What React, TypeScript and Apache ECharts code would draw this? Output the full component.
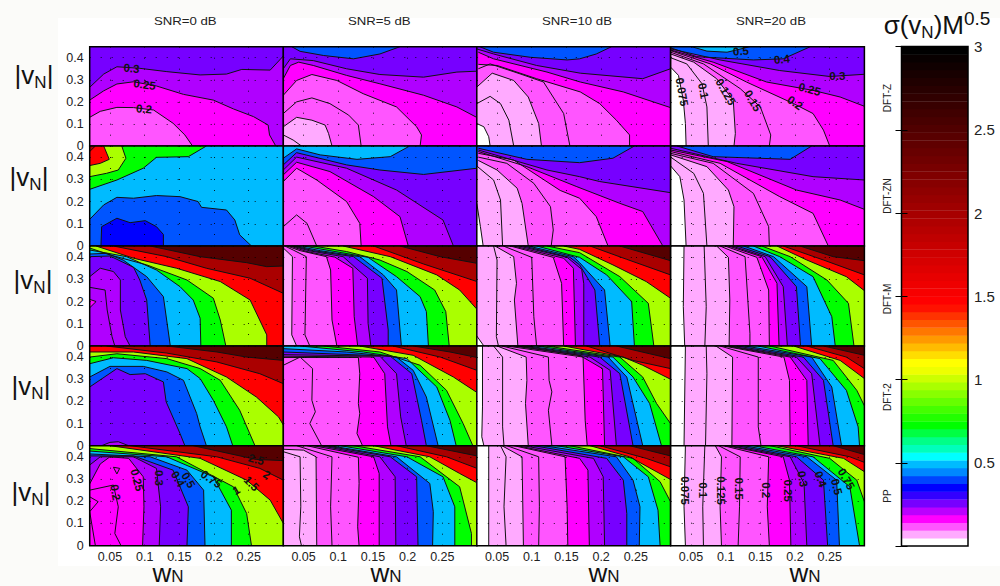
import React, { useEffect, useRef } from "react";
import * as echarts from "echarts";

type C = [number, number[]];
type L = [string, number, number, number];

const XMIN = 0.0208, XMAX = 0.3, VMAX = 0.45;
const wTicks = [0.05, 0.1, 0.15, 0.2, 0.25];
const vTicks = [0, 0.1, 0.2, 0.3, 0.4];
const snrTitles = ["SNR=0 dB", "SNR=5 dB", "SNR=10 dB", "SNR=20 dB"];
const methods = ["DFT-Z", "DFT-ZN", "DFT-M", "DFT-2", "PP"];

// colour of the band just under / just over each contour level
const below: Record<string, string> = {
  "0.075": "#ffffff", "0.1": "#ffaaff", "0.125": "#ffaaff", "0.15": "#ff55ff", "0.2": "#ff55ff",
  "0.205": "#ff00ff", "0.21": "#ff00ff", "0.22": "#ff00ff", "0.25": "#ff00ff", "0.26": "#b000ff", "0.3": "#b000ff",
  "0.4": "#7700ff", "0.45": "#0000ff", "0.5": "#0055ff", "0.75": "#00bbff", "1": "#00ff00", "1.5": "#aaff00",
  "2": "#ff0000", "2.5": "#aa0000",
};
const above: Record<string, string> = {
  "0.3": "#7700ff", "0.4": "#0055ff", "0.5": "#00bbff", "0.75": "#00ff00", "1": "#aaff00", "1.5": "#ff0000", "2": "#aa0000", "2.5": "#550000",
};

const c11: C[] = [
  [0.2, [.021,.13,.036,.157,.06,.175,.084,.174,.113,.163,.141,.103,.158,.05,.169,0]],
  [0.25, [.021,.208,.041,.25,.06,.281,.084,.291,.117,.272,.156,.234,.199,.208,.228,.168,.257,.133,.278,.095,.28,.05,.289,0]],
  [0.3, [.021,.266,.041,.326,.06,.359,.093,.352,.132,.337,.18,.322,.218,.326,.24,.347,.281,.344,.3,.408]],
];
const c12: C[] = [
  [0.1, [.021,.05,.035,.027,.047,0]],
  [0.125, [.021,.087,.04,.13,.062,.117,.081,.095,.086,.057,.091,0]],
  [0.15, [.021,.147,.04,.2,.062,.218,.088,.192,.115,.14,.129,.095,.133,0]],
  [0.2, [.021,.23,.04,.297,.062,.324,.098,.297,.136,.237,.184,.177,.213,.087,.22,.05,.218,0]],
  [0.25, [.021,.305,.031,.365,.043,.38,.064,.365,.112,.32,.16,.282,.223,.23,.271,.177,.3,.129]],
  [0.3, [.021,.35,.031,.395,.064,.387,.112,.35,.16,.324,.223,.312,.271,.335,.3,.339]],
  [0.4, [.033,.45,.045,.429,.079,.41,.122,.395,.16,.417,.189,.45]],
];
const c13: C[] = [
  [0.075, [.021,.102,.031,.087,.038,.042,.04,0]],
  [0.1, [.021,.192,.04,.225,.055,.192,.067,.117,.074,0]],
  [0.125, [.021,.267,.043,.33,.074,.297,.095,.222,.11,.102,.114,0]],
  [0.15, [.023,.35,.04,.372,.083,.327,.117,.29,.146,.147,.155,0]],
  [0.2, [.023,.37,.05,.365,.107,.305,.17,.245,.198,.192,.222,.117,.241,.05,.241,0]],
  [0.25, [.023,.425,.045,.395,.122,.335,.17,.29,.232,.245,.3,.174]],
  [0.3, [.021,.44,.045,.417,.107,.365,.17,.33,.26,.305,.3,.35]],
  [0.4, [.025,.45,.045,.425,.098,.402,.151,.39,.169,.395,.193,.417,.215,.45]],
];
const c14: C[] = [
  [0.075, [.021,.357,.032,.32,.039,.207,.042,.102,.043,0]],
  [0.1, [.021,.4,.044,.372,.066,.282,.073,.177,.075,0]],
  [0.125, [.021,.417,.054,.38,.087,.305,.111,.207,.114,.057,.112,0]],
  [0.15, [.021,.425,.068,.372,.121,.26,.15,.177,.165,.05,.163,0]],
  [0.2, [.021,.432,.078,.372,.13,.29,.198,.192,.226,.147,.241,.072,.25,0]],
  [0.25, [.021,.435,.082,.38,.159,.29,.226,.252,.265,.222,.3,.18]],
  [0.3, [.021,.44,.092,.39,.178,.342,.25,.315,.3,.325]],
  [0.4, [.021,.445,.058,.405,.14,.39,.183,.395,.222,.45]],
  [0.5, [.051,.45,.073,.43,.102,.425,.135,.45]],
];
const c21: C[] = [
  [0.5, [.021,.12,.041,.185,.06,.219,.084,.215,.117,.227,.151,.222,.177,.2,.182,.174,.218,.162,.23,.117,.237,.05,.254,0]],
  [0.45, [.037,0,.038,.087,.06,.125,.079,.105,.101,.114,.117,.087,.127,.052,.127,0]],
];
const t21: C[] = [
  [0.75, [.021,.255,.06,.297,.098,.35,.117,.399,.163,.402,.189,.45]],
  [1, [.021,.312,.045,.327,.062,.342,.073,.395,.067,.45]],
  [1.5, [.021,.362,.036,.372,.049,.39,.041,.45]],
  [2, [.021,.425,.029,.45]],
];
const c22: C[] = [
  [0.15, [.021,.087,.04,.14,.055,.102,.069,0]],
  [0.2, [.021,.29,.04,.35,.069,.297,.112,.2,.131,.102,.133,0]],
  [0.25, [.021,.32,.04,.377,.088,.335,.151,.222,.189,.132,.201,0]],
  [0.3, [.021,.342,.04,.4,.112,.35,.184,.252,.251,.117,.266,0]],
  [0.4, [.021,.365,.04,.42,.112,.365,.16,.342,.223,.322,.3,.35]],
  [0.5, [.021,.395,.04,.437,.074,.41,.127,.39,.175,.402,.203,.45]],
];
const c23: C[] = [
  [0.075, [.021,.192,.026,.087,.03,0]],
  [0.1, [.021,.36,.045,.297,.055,.207,.058,0]],
  [0.125, [.023,.385,.05,.342,.079,.26,.086,.192,.095,0]],
  [0.15, [.023,.4,.064,.372,.103,.282,.127,.177,.131,.072,.128,0]],
  [0.2, [.023,.417,.074,.387,.141,.25,.169,.215,.193,.132,.21,0]],
  [0.25, [.023,.425,.093,.357,.165,.267,.227,.192,.26,.155,.289,0]],
  [0.3, [.023,.432,.122,.342,.169,.312,.198,.29,.3,.24]],
  [0.4, [.023,.44,.093,.39,.169,.375,.217,.395,.248,.45]],
];
const c24: C[] = [
  [0.075, [.021,.36,.034,.312,.04,.207,.043,0]],
  [0.1, [.021,.4,.054,.327,.068,.237,.073,0]],
  [0.125, [.021,.41,.073,.357,.104,.252,.112,.177,.111,0]],
  [0.15, [.021,.417,.082,.372,.14,.237,.162,.087,.163,0]],
  [0.2, [.021,.425,.092,.372,.178,.222,.226,.147,.248,0]],
  [0.25, [.021,.432,.102,.38,.202,.252,.265,.207,.3,.165]],
  [0.3, [.021,.44,.116,.372,.226,.312,.3,.297]],
  [0.4, [.03,.45,.082,.402,.193,.39,.224,.45]],
];
const c31: C[] = [
  [0.25, [.021,.21,.03,.2,.021,.172]],
  [0.26, [.021,.264,.043,.252,.046,.162,.053,.042,.057,0]],
  [0.3, [.021,.312,.036,.35,.055,.335,.065,.297,.065,.162,.072,.042,.079,0]],
  [0.4, [.021,.402,.05,.405,.084,.354,.093,.297,.103,.207,.108,0]],
  [0.5, [.021,.414,.045,.417,.069,.387,.103,.312,.127,.222,.137,0]],
  [0.75, [.021,.432,.074,.402,.117,.342,.151,.267,.17,.207,.18,.125,.181,0]],
  [1, [.021,.441,.05,.41,.103,.365,.161,.297,.199,.215,.209,.117,.217,0]],
  [1.5, [.03,.45,.084,.395,.146,.35,.209,.29,.252,.207,.276,.05,.276,0]],
  [2, [.055,.45,.132,.402,.189,.35,.252,.305,.3,.237]],
  [2.5, [.108,.45,.18,.402,.247,.375,.276,.357,.3,.36]],
];
const c32: C[] = [
  [0.125, [.021,.441,.034,.402,.033,.05,.04,0]],
  [0.15, [.023,.45,.035,.432,.054,.402,.052,.05,.059,0]],
  [0.2, [.026,.45,.045,.429,.083,.402,.089,.342,.091,.117,.098,0]],
  [0.25, [.03,.45,.055,.425,.095,.4,.121,.35,.123,.132,.128,0]],
  [0.3, [.033,.45,.059,.428,.107,.402,.142,.305,.143,.102,.147,0]],
  [0.4, [.036,.45,.064,.429,.122,.402,.163,.305,.172,.072,.172,0]],
  [0.5, [.04,.45,.074,.429,.131,.402,.165,.32,.184,.252,.191,0]],
  [0.75, [.05,.45,.088,.429,.143,.399,.184,.312,.218,.222,.227,.155,.23,0]],
  [1, [.064,.45,.112,.425,.16,.387,.199,.335,.239,.252,.255,.155,.26,0]],
  [1.5, [.107,.45,.175,.402,.242,.32,.275,.252,.3,.165]],
  [2, [.151,.45,.223,.369,.3,.29]],
  [2.5, [.189,.45,.247,.402,.3,.372]],
];
const c33: C[] = [
  [0.075, [.021,.045,.031,0]],
  [0.1, [.045,.45,.05,.387,.049,.042,.052,0]],
  [0.125, [.047,.45,.074,.402,.078,.282,.075,.207,.08,0]],
  [0.15, [.059,.45,.1,.399,.103,.132,.107,0]],
  [0.2, [.069,.45,.131,.399,.143,.282,.146,0]],
  [0.25, [.074,.45,.146,.395,.16,.35,.163,0]],
  [0.3, [.081,.45,.151,.399,.172,.345,.175,.28,.175,0]],
  [0.4, [.088,.45,.155,.399,.169,.365,.191,.252,.198,0]],
  [0.5, [.095,.45,.16,.402,.169,.375,.205,.252,.213,0]],
  [0.75, [.107,.45,.169,.399,.208,.32,.244,.2,.248,0]],
  [1, [.122,.45,.169,.42,.227,.312,.268,.192,.276,0]],
  [1.5, [.146,.45,.169,.435,.217,.365,.265,.29,.3,.215]],
  [2, [.184,.45,.237,.39,.3,.32]],
  [2.5, [.227,.45,.3,.384]],
];
const c34: C[] = [
  [0.075, [.04,.45,.039,.177,.041,0]],
  [0.1, [.069,.45,.072,.177,.07,0]],
  [0.125, [.087,.45,.104,.399,.106,.207,.105,0]],
  [0.15, [.092,.45,.128,.402,.135,.057,.135,0]],
  [0.2, [.099,.45,.145,.399,.162,.252,.163,0]],
  [0.25, [.104,.45,.152,.402,.174,.282,.177,0]],
  [0.3, [.109,.45,.157,.402,.183,.267,.189,0]],
  [0.4, [.116,.45,.164,.402,.202,.267,.208,0]],
  [0.5, [.126,.45,.169,.402,.217,.267,.224,0]],
  [0.75, [.14,.45,.178,.402,.226,.312,.253,.132,.258,0]],
  [1, [.152,.45,.193,.402,.246,.297,.277,.192,.285,0]],
  [1.5, [.174,.45,.217,.387,.274,.312,.3,.249]],
  [2, [.183,.45,.241,.387,.3,.32]],
  [2.5, [.207,.45,.255,.402,.3,.384]],
];
const c41: C[] = [
  [0.3, [.038,0,.05,.015,.062,.018,.077,0]],
  [0.4, [.021,.265,.06,.348,.079,.321,.101,.325,.127,.288,.131,.198,.151,.055,.158,0]],
  [0.5, [.021,.31,.05,.358,.098,.358,.132,.333,.156,.295,.175,.145,.18,.085,.189,0]],
  [0.75, [.021,.37,.055,.397,.103,.385,.161,.348,.18,.303,.199,.205,.218,.085,.227,0]],
  [1, [.021,.4,.06,.415,.132,.393,.18,.348,.209,.295,.237,.16,.259,0]],
  [1.5, [.021,.423,.084,.423,.161,.393,.218,.31,.261,.22,.293,.13,.3,.093]],
  [2, [.045,.45,.132,.418,.204,.378,.266,.325,.3,.28]],
  [2.5, [.132,.45,.204,.423,.247,.4,.3,.385]],
];
const c42: C[] = [
  [0.15, [.021,.363,.045,.4,.063,.348,.062,.205,.067,.153,.059,.1,.076,0]],
  [0.2, [.021,.398,.129,.398,.131,.325,.129,.19,.131,.145,.127,.055,.135,0]],
  [0.25, [.021,.404,.151,.4,.167,.325,.171,.085,.176,0]],
  [0.3, [.021,.411,.16,.404,.184,.325,.19,.13,.198,0]],
  [0.4, [.021,.423,.175,.404,.206,.325,.22,.115,.227,0]],
  [0.5, [.021,.438,.112,.423,.184,.4,.208,.34,.227,.22,.244,0]],
  [0.75, [.045,.45,.136,.423,.199,.393,.242,.265,.261,.115,.27,0]],
  [1, [.079,.45,.16,.423,.218,.363,.256,.25,.28,.1,.294,0]],
  [1.5, [.131,.45,.208,.408,.266,.31,.3,.24]],
  [2, [.179,.45,.247,.4,.3,.34]],
  [2.5, [.208,.45,.261,.423,.3,.398]],
];
const c43: C[] = [
  [0.075, [.029,.45,.029,.175,.028,.04,.031,0]],
  [0.1, [.045,.45,.058,.4,.058,.085,.06,0]],
  [0.125, [.05,.45,.092,.4,.093,.295,.091,.19,.095,0]],
  [0.15, [.057,.45,.124,.4,.125,.295,.129,.243,.124,.16,.129,0]],
  [0.2, [.064,.45,.174,.4,.177,.115,.18,0]],
  [0.25, [.074,.45,.169,.408,.202,.348,.205,0]],
  [0.3, [.079,.45,.184,.4,.213,.34,.222,0]],
  [0.4, [.086,.45,.198,.4,.227,.325,.246,0]],
  [0.5, [.093,.45,.21,.4,.237,.31,.26,0]],
  [0.75, [.107,.45,.217,.4,.246,.31,.27,.19,.287,0]],
  [1, [.122,.45,.227,.4,.26,.31,.28,.19,.3,.1]],
  [1.5, [.146,.45,.232,.4,.26,.363,.3,.3]],
  [2, [.179,.45,.246,.385,.3,.348]],
  [2.5, [.222,.45,.27,.415,.3,.393]],
];
const c44: C[] = [
  [0.075, [.042,.45,.04,0]],
  [0.1, [.072,.45,.073,.325,.071,0]],
  [0.125, [.086,.45,.11,.4,.109,0]],
  [0.15, [.092,.45,.147,.4,.147,.085,.151,0]],
  [0.2, [.097,.45,.184,.4,.192,.295,.193,0]],
  [0.25, [.102,.45,.193,.4,.217,.295,.219,0]],
  [0.3, [.106,.45,.202,.4,.224,.325,.236,0]],
  [0.4, [.116,.45,.212,.4,.241,.295,.255,0]],
  [0.5, [.128,.45,.224,.4,.253,.265,.267,0]],
  [0.75, [.147,.45,.236,.393,.274,.25,.291,.085,.293,0]],
  [1, [.164,.45,.255,.385,.289,.25,.3,.18]],
  [1.5, [.198,.45,.265,.385,.3,.303]],
  [2, [.217,.45,.274,.4,.3,.348]],
  [2.5, [.241,.45,.3,.408]],
];
const c51: C[] = [
  [0.205, [.021,.22,.033,.198,.021,.153,.029,0]],
  [0.21, [.021,.25,.055,.273,.062,.175,.057,.055,.066,0]],
  [0.22, [.055,.353,.064,.348,.06,.323,.055,.353]],
  [0.25, [.021,.278,.036,.368,.05,.4,.077,.393,.098,.31,.099,.175,.097,0]],
  [0.3, [.021,.363,.036,.4,.084,.4,.117,.348,.123,.175,.121,0]],
  [0.4, [.021,.404,.084,.404,.141,.34,.163,.175,.161,0]],
  [0.5, [.021,.413,.108,.4,.161,.34,.185,.25,.187,0]],
  [0.75, [.021,.426,.132,.4,.199,.31,.225,.16,.225,0]],
  [1, [.021,.437,.146,.4,.228,.265,.247,.145,.254,0]],
  [1.5, [.05,.45,.18,.393,.247,.295,.281,.205,.3,.1]],
  [2, [.079,.45,.204,.4,.266,.348,.3,.295]],
  [2.5, [.17,.45,.261,.388,.3,.383]],
];
const c52: C[] = [
  [0.1, [.021,.423,.045,.4,.046,.175,.044,.04,.047,0]],
  [0.125, [.021,.434,.05,.43,.068,.4,.069,0]],
  [0.15, [.04,.45,.091,.4,.089,.175,.091,0]],
  [0.2, [.055,.45,.129,.398,.13,.28,.128,.085,.13,0]],
  [0.25, [.064,.45,.151,.4,.159,.325,.159,0]],
  [0.3, [.074,.45,.16,.4,.182,.31,.183,0]],
  [0.4, [.081,.45,.175,.4,.213,.31,.215,0]],
  [0.5, [.088,.45,.184,.4,.232,.28,.237,.153,.236,0]],
  [0.75, [.103,.45,.199,.4,.251,.31,.268,.175,.268,0]],
  [1, [.122,.45,.218,.4,.275,.265,.292,.055,.292,0]],
  [1.5, [.151,.45,.232,.4,.275,.325,.3,.283]],
  [2, [.184,.45,.256,.4,.3,.348]],
  [2.5, [.227,.45,.3,.404]],
];
const c53: C[] = [
  [0.075, [.038,.45,.038,0]],
  [0.1, [.055,.45,.063,.4,.06,.175,.063,0]],
  [0.125, [.057,.45,.086,.4,.088,0]],
  [0.15, [.064,.45,.11,.4,.111,.175,.11,0]],
  [0.2, [.074,.45,.148,.4,.151,.175,.152,0]],
  [0.25, [.079,.45,.169,.393,.181,.34,.183,0]],
  [0.3, [.088,.45,.189,.393,.203,.31,.205,0]],
  [0.4, [.103,.45,.208,.393,.232,.295,.237,.145,.237,0]],
  [0.5, [.117,.45,.222,.4,.246,.295,.256,.175,.255,0]],
  [0.75, [.136,.45,.232,.4,.268,.31,.282,.16,.285,0]],
  [1, [.155,.45,.246,.393,.285,.288,.3,.198]],
  [1.5, [.184,.45,.241,.4,.3,.298]],
  [2, [.198,.45,.265,.393,.3,.355]],
  [2.5, [.241,.45,.3,.404]],
];
const c54: C[] = [
  [0.075, [.042,.45,.04,.175,.042,0]],
  [0.1, [.07,.45,.067,.175,.068,0]],
  [0.125, [.085,.45,.094,.4,.092,.175,.094,0]],
  [0.15, [.09,.45,.121,.4,.12,.175,.118,0]],
  [0.2, [.097,.45,.162,.4,.16,.175,.163,0]],
  [0.25, [.102,.45,.183,.4,.192,.295,.194,0]],
  [0.3, [.106,.45,.193,.4,.213,.28,.217,0]],
  [0.4, [.116,.45,.202,.4,.241,.295,.247,0]],
  [0.5, [.126,.45,.217,.4,.26,.295,.264,0]],
  [0.75, [.14,.45,.226,.4,.279,.265,.293,0]],
  [1, [.164,.45,.25,.393,.289,.295,.3,.198]],
  [1.5, [.174,.45,.27,.393,.3,.333]],
  [2, [.202,.45,.279,.4,.3,.375]],
  [2.5, [.255,.45,.3,.41]],
];

// contour labels: text, w, |v|, clockwise angle
const l11: L[] = [["0.3",.081,.352,5],["0.25",.1,.278,8],["0.2",.099,.168,5]];
const l14: L[] = [["0.075",.037,.245,80],["0.1",.068,.25,80],["0.125",.1,.245,60],["0.15",.139,.205,60],["0.2",.2,.196,35],["0.25",.221,.257,15],["0.3",.261,.317,0],["0.4",.181,.393,-5],["0.5",.122,.43,-5]];
const l51: L[] = [["0.2",.058,.24,80],["0.25",.089,.295,75],["0.3",.121,.305,90],["0.4",.148,.3,60],["0.5",.163,.295,60],["0.75",.196,.3,35],["1",.232,.25,-30],["1.5",.254,.28,45],["2",.276,.32,30],["2.5",.261,.388,15]];
const l54: L[] = [["0.075",.042,.248,90],["0.1",.067,.25,90],["0.125",.093,.248,90],["0.15",.119,.257,90],["0.2",.158,.25,90],["0.25",.19,.248,90],["0.3",.211,.3,80],["0.4",.237,.3,70],["0.5",.26,.265,75],["0.75",.274,.3,60]];

const contours: C[][][] = [
  [c11, c12, c13, c14], [c21, c22, c23, c24], [c31, c32, c33, c34], [c41, c42, c43, c44], [c51, c52, c53, c54],
];
const contourLabels: Record<string, L[]> = { "0-0": l11, "0-3": l14, "4-0": l51, "4-3": l54 };
const topLeftContours: Record<string, C[]> = { "1-0": t21 };

const lowColors = ["#ffffff","#ffaaff","#ff55ff","#ff00ff","#bb00ff","#7700ff","#3300ff","#0000ff","#0044ff","#0088ff","#00bbff","#00ffff","#00ffbb","#00ff88","#00ff44","#00ff00","#22ff00","#44ff00","#66ff00","#88ff00","#aaff00","#ccff00","#eeff00","#ffff00","#ffdd00","#ffbb00","#ff9900","#ff7700","#ff5500","#ff3300","#ff1100","#ff0000"];
const darkColors = Array.from({ length: 32 }, (_, i) => `rgb(${Math.round(255 * (1 - (i + 1) / 32))},0,0)`);
const colormap = [...lowColors, ...darkColors];

const FONT = "Liberation Sans";
const colLeft = [89.7, 283.3, 476.8, 670.7];
const colWidth = 193.7;
const rowTop = [46.7, 146, 246, 346, 445.7];
const rowBottom = [146, 246, 346, 445.7, 545.7];
const vLabelPos: [number, number][] = [[34, 75], [29, 177], [33, 280], [31, 386], [31, 492]];
const wLabelX = [168, 386, 604, 805];
const titleX = [186, 380, 574, 768];
const methodY = [98, 196, 299, 397, 496];

function toPairs(a: number[]) {
  const out: number[][] = [];
  for (let i = 0; i < a.length; i += 2) out.push([a[i] <= 0.0215 ? XMIN : a[i], a[i + 1]]);
  return out;
}
function closeRegion(pts: number[][]) {
  const s = pts[0], e = pts[pts.length - 1];
  const poly = pts.slice();
  const eTop = e[1] >= VMAX - 0.001, eRight = e[0] >= XMAX - 0.001, sTop = s[1] >= VMAX - 0.001;
  if (eTop) poly.push([XMAX, VMAX]);
  if (eTop || eRight) poly.push([XMAX, 0]);
  poly.push([XMIN, 0]);
  if (sTop) poly.push([XMIN, VMAX]);
  return poly;
}

function panelRender(r: number, c: number) {
  const key = `${r}-${c}`;
  const list = contours[r][c].slice().sort((a, b) => b[0] - a[0]);
  const tl = topLeftContours[key] || [];
  const labels = contourLabels[key] || [];
  return (_p: any, api: any) => {
    const P = (q: number[]) => api.coord(q);
    const children: any[] = [];
    const corners = [[XMIN, 0], [XMAX, 0], [XMAX, VMAX], [XMIN, VMAX]].map(P);
    children.push({ type: "polygon", shape: { points: corners }, style: { fill: above[String(list[0][0])], stroke: "none" } });
    const lines: any[] = [];
    for (const [lev, raw] of list) {
      const pts = toPairs(raw);
      children.push({ type: "polygon", shape: { points: closeRegion(pts).map(P) }, style: { fill: below[String(lev)], stroke: "none" } });
      lines.push(pts);
    }
    for (const [lev, raw] of tl) {
      const pts = toPairs(raw);
      children.push({ type: "polygon", shape: { points: [...pts, [XMIN, VMAX]].map(P) }, style: { fill: above[String(lev)], stroke: "none" } });
      lines.push(pts);
    }
    for (const pts of lines) {
      children.push({ type: "polyline", shape: { points: pts.map(P) }, style: { stroke: "#111", fill: "none", lineWidth: 1 } });
    }
    for (const [text, w, v, ang] of labels) {
      const q = P([w, v]);
      children.push({ type: "text", x: q[0], y: q[1], rotation: (-ang * Math.PI) / 180, style: { text, fontFamily: FONT, fontSize: 11.5, fontWeight: "bold", fill: "#111", align: "center", verticalAlign: "middle" } });
    }
    children.push({ type: "polygon", shape: { points: corners }, style: { fill: "none", stroke: "#000", lineWidth: 1.5 } });
    return { type: "group", children };
  };
}

function buildOption() {
  const grid: any[] = [], xAxis: any[] = [], yAxis: any[] = [], series: any[] = [];
  for (let r = 0; r < 5; r++) for (let c = 0; c < 4; c++) {
    const i = grid.length;
    grid.push({ left: colLeft[c], top: rowTop[r], width: colWidth, height: rowBottom[r] - rowTop[r] });
    const dots = { show: true, lineStyle: { color: "#000", width: 1, type: [1, 10] as any, opacity: 0.85 } };
    xAxis.push({
      type: "value", gridIndex: i, min: XMIN, max: XMAX, z: 5, axisLine: { show: false },
      axisTick: { show: false, customValues: wTicks },
      axisLabel: { show: r === 4, customValues: wTicks, fontFamily: FONT, fontSize: 12.5, lineHeight: 10, color: "#222", margin: 6, formatter: (v: number) => String(v) },
      splitLine: dots,
    });
    yAxis.push({
      type: "value", gridIndex: i, min: 0, max: VMAX, z: 5, axisLine: { show: false },
      axisTick: { show: false, customValues: vTicks },
      axisLabel: { show: c === 0, customValues: vTicks, fontFamily: FONT, fontSize: 12.5, lineHeight: 10, color: "#222", margin: 6, formatter: (v: number) => String(v) },
      splitLine: dots,
    });
    series.push({ type: "custom", coordinateSystem: "cartesian2d", xAxisIndex: i, yAxisIndex: i, silent: true, clip: false, data: [[XMIN, 0]], renderItem: panelRender(r, c) });
  }
  // colour bar
  const b = grid.length;
  grid.push({ left: 901.5, top: 46.5, width: 66.5, height: 499.5 });
  xAxis.push({ type: "value", gridIndex: b, min: 0, max: 1, show: false });
  const barAxis = {
    type: "value", gridIndex: b, min: 0, max: 3, interval: 0.5, z: 5,
    axisLine: { show: false }, splitLine: { show: false },
    axisTick: { show: true, inside: true, length: 6, lineStyle: { color: "#000", width: 1 } },
  };
  yAxis.push({ ...barAxis, position: "right", axisLabel: { show: true, fontFamily: FONT, fontSize: 15, color: "#222", margin: 6, formatter: (v: number) => (v === 0 ? "" : String(v)) } });
  yAxis.push({ ...barAxis, position: "left", axisLabel: { show: false } });
  const yi = yAxis.length - 2;
  series.push({
    type: "custom", coordinateSystem: "cartesian2d", xAxisIndex: b, yAxisIndex: yi, silent: true, clip: false,
    data: colormap.map((_, i) => [i]),
    renderItem: (_p: any, api: any) => {
      const i = api.value(0);
      const a = api.coord([0, (i * 3) / 64]), d = api.coord([1, ((i + 1) * 3) / 64]);
      return { type: "rect", shape: { x: a[0], y: d[1], width: d[0] - a[0], height: a[1] - d[1] + 0.4 }, style: { fill: colormap[i], stroke: "none" } };
    },
  });
  series.push({
    type: "custom", coordinateSystem: "cartesian2d", xAxisIndex: b, yAxisIndex: yi, silent: true, clip: false, z: 3,
    data: [[0, 0]],
    renderItem: (_p: any, api: any) => {
      const pts = [[0, 0], [1, 0], [1, 3], [0, 3]].map((q) => api.coord(q));
      return { type: "polygon", shape: { points: pts }, style: { fill: "none", stroke: "#000", lineWidth: 1.5 } };
    },
  });

  const big = (lh: number) => ({
    a: { fontFamily: FONT, fontSize: 26, lineHeight: lh, fill: "#111" },
    s: { fontFamily: FONT, fontSize: 17, lineHeight: lh, fill: "#111", verticalAlign: "bottom" },
    u: { fontFamily: FONT, fontSize: 19, lineHeight: lh, fill: "#111", verticalAlign: "top" },
  });
  const graphic: any[] = [
    { type: "rect", z: -10, silent: true, shape: { x: 58, y: 18, width: 942, height: 548 }, style: { fill: "#ffffff" } },
  ];
  snrTitles.forEach((t, i) => graphic.push({ type: "text", x: titleX[i] - 32, y: 21, scaleX: 1.2, style: { text: t, fontFamily: FONT, fontSize: 11, fill: "#222", align: "left", verticalAlign: "middle" } }));
  methods.forEach((t, i) => graphic.push({ type: "text", x: 887, y: methodY[i], rotation: Math.PI / 2, style: { text: t, fontFamily: FONT, fontSize: 10, fill: "#222", align: "center", verticalAlign: "middle" } }));
  vLabelPos.forEach(([x, y]) => graphic.push({ type: "text", x, y, style: { text: "{a||v}{s|N}{a||}", rich: big(32), align: "center", verticalAlign: "middle" } }));
  wLabelX.forEach((x) => graphic.push({ type: "text", x, y: 573, style: { text: "{a|w}{s|N}", rich: big(24), align: "center", verticalAlign: "middle" } }));
  graphic.push({ type: "text", x: 937, y: 25, style: { text: "{a|σ(v}{s|N}{a|)M}{u|0.5}", rich: big(32), align: "center", verticalAlign: "middle" } });

  return { animation: false, grid, xAxis, yAxis, series, graphic };
}

export default function App() {
  const ref = useRef<HTMLDivElement>(null);
  useEffect(() => {
    document.body.style.margin = "0";
    const chart = echarts.init(ref.current!, undefined, { renderer: "svg" });
    chart.setOption(buildOption() as any);
    return () => chart.dispose();
  }, []);
  return <div ref={ref} style={{ position: "absolute", left: 0, top: 0, width: 1000, height: 586, background: "#fbfbf9" }} />;
}
